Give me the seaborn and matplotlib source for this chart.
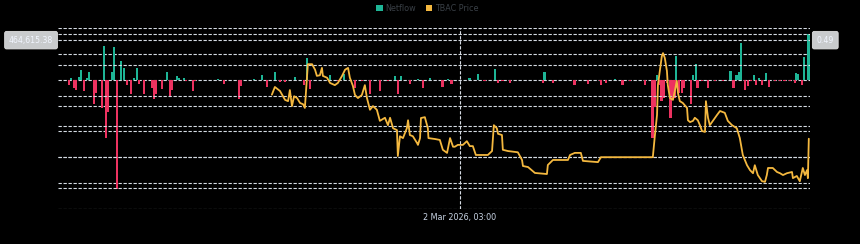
import matplotlib
matplotlib.use("Agg")
import matplotlib.pyplot as plt
import seaborn as sns
import pandas as pd
import numpy as np
from matplotlib.patches import Patch

# ---------------- data ----------------
bar_hours = [1.0, 3.7, 4.3, 5.3, 6.0, 7.0, 7.7, 8.7, 9.7, 10.3, 12.0, 12.7, 14.7, 15.3, 16.0, 16.7,
             18.0, 18.7, 19.7, 21.0, 22.0, 23.0, 24.3, 25.3, 26.3, 27.0, 28.7, 31.3, 32.0, 32.7,
             34.7, 36.3, 37.3, 38.0, 39.7, 40.3, 42.0, 42.7, 45.0, 45.7, 53.3, 55.3, 60.3, 61.0,
             65.3, 68.0, 69.7, 72.3, 74.0, 75.7, 79.0, 82.0, 83.0, 84.0, 90.7, 93.3, 95.3, 99.0,
             101.3, 104.0, 107.3, 110.0, 112.3, 113.3, 114.3, 117.3, 120.0, 121.7, 124.0, 128.0,
             128.3, 130.0, 131.3, 137.3, 140.0, 142.3, 145.7, 146.7, 148.3, 150.7, 161.7, 162.3,
             165.0, 172.3, 176.7, 180.7, 181.0, 182.7, 185.7, 188.3, 190.7, 195.7, 198.3, 199.0,
             199.7, 200.7, 201.3, 202.0, 203.0, 204.3, 205.0, 205.7, 206.0, 207.0, 208.0, 208.7,
             211.0, 211.7, 212.7, 213.3, 214.7, 216.7, 219.0, 221.7, 224.3, 225.3, 226.3, 227.0,
             227.7, 229.0, 230.0, 231.0, 232.0, 232.7, 233.7, 234.7, 236.0, 237.0, 239.0, 240.7,
             242.3, 244.0, 245.7, 246.0, 246.7, 248.0, 248.7, 250.3]
netflow = [-8e3, -62e3, 23e3, -101e3, -116e3, 27e3, 116e3, -131e3, 20e3, 93e3, -286e3, -151e3,
           -333e3, 391e3, -681e3, -371e3, 89e3, 379e3, -1270e3, 217e3, 131e3, -62e3, -170e3,
           20e3, 139e3, -46e3, -170e3, -101e3, -228e3, -170e3, -108e3, 93e3, -197e3, -116e3,
           39e3, 20e3, 15e3, -19e3, -131e3, -19e3, 12e3, -46e3, -228e3, -77e3, 10e3, 50e3,
           -85e3, 93e3, -31e3, -31e3, 27e3, -62e3, 255e3, -112e3, 50e3, -15e3, 62e3, -93e3,
           -15e3, -162e3, -131e3, -12e3, 39e3, -170e3, 39e3, -46e3, 12e3, -93e3, 15e3, -20e3,
           -85e3, 10e3, -54e3, 15e3, 62e3, -19e3, 120e3, -39e3, -15e3, -39e3, -39e3, 93e3,
           -39e3, -62e3, -46e3, -15e3, -62e3, -39e3, 10e3, -62e3, -15e3, -58e3, -673e3, -322e3,
           50e3, -58e3, -248e3, -209e3, -39e3, -441e3, -228e3, -209e3, 275e3, -151e3, -151e3,
           -93e3, -287e3, 50e3, 186e3, -101e3, -15e3, -93e3, -15e3, -15e3, 101e3, -101e3, 50e3,
           89e3, 421e3, -116e3, -77e3, -15e3, 50e3, -58e3, 20e3, -58e3, 77e3, -85e3, -20e3,
           -15e3, -20e3, -15e3, -39e3, 77e3, 62e3, -58e3, 263e3, 526e3]

price_hours = [71.3, 72.3, 74.0, 75.7, 76.7, 77.3, 78.0, 78.7, 79.7, 80.7, 81.7, 82.3, 83.0, 83.3,
               84.7, 85.7, 86.3, 87.3, 88.0, 88.3, 89.7, 90.7, 92.3, 93.3, 94.7, 95.7, 96.7, 97.3,
               98.3, 99.0, 100.0, 101.3, 102.3, 103.0, 104.0, 105.0, 106.3, 107.3, 109.0, 110.0,
               110.7, 111.7, 113.0, 113.3, 114.0, 115.0, 116.3, 116.7, 117.3, 118.3, 119.7, 120.0,
               120.7, 121.0, 122.3, 123.3, 123.5, 125.7, 127.3, 128.3, 129.7, 130.7, 131.7, 132.3,
               133.3, 135.0, 136.3, 137.3, 138.3, 139.3, 143.3, 144.7, 145.3, 146.3, 146.7, 148.0,
               148.3, 150.0, 153.3, 154.7, 155.0, 156.7, 159.0, 163.0, 163.3, 164.7, 165.0, 170.0,
               170.7, 172.3, 174.3, 175.0, 180.0, 181.0, 198.3, 199.0, 199.7, 200.0, 201.3, 201.7,
               202.3, 203.0, 203.3, 204.0, 205.0, 205.7, 206.3, 206.7, 207.3, 208.3, 209.7, 210.0,
               210.7, 211.7, 212.3, 213.3, 214.0, 214.7, 215.7, 216.0, 216.7, 217.3, 218.3, 219.7,
               220.7, 222.3, 223.3, 224.7, 226.3, 227.3, 228.3, 229.7, 230.7, 231.7, 232.3, 233.3,
               234.7, 235.7, 236.3, 236.7, 238.3, 239.7, 240.7, 241.7, 243.0, 244.7, 245.0, 246.3,
               247.3, 248.3, 249.0, 249.7, 250.0, 250.3]
price = [0.4015, 0.414, 0.4075, 0.393, 0.391, 0.409, 0.383, 0.399, 0.396, 0.388, 0.386, 0.380,
         0.429, 0.451, 0.451, 0.442, 0.432, 0.433, 0.445, 0.432, 0.429, 0.4205, 0.417, 0.4205,
         0.432, 0.442, 0.445, 0.429, 0.416, 0.401, 0.396, 0.401, 0.417, 0.396, 0.377, 0.383,
         0.377, 0.359, 0.364, 0.352, 0.364, 0.347, 0.344, 0.302, 0.334, 0.331, 0.347, 0.360,
         0.336, 0.334, 0.323, 0.320, 0.331, 0.3636, 0.365, 0.347, 0.331, 0.3295, 0.328, 0.312,
         0.307, 0.331, 0.317, 0.317, 0.320, 0.320, 0.326, 0.318, 0.318, 0.3036, 0.3036, 0.310,
         0.352, 0.347, 0.338, 0.336, 0.312, 0.310, 0.308, 0.2955, 0.2857, 0.284, 0.2744, 0.2727,
         0.2873, 0.294, 0.2955, 0.2955, 0.3036, 0.307, 0.307, 0.294, 0.292, 0.300, 0.300, 0.336,
         0.3685, 0.417, 0.464, 0.469, 0.461, 0.440, 0.417, 0.396, 0.393, 0.409, 0.424, 0.404,
         0.391, 0.388, 0.380, 0.360, 0.357, 0.359, 0.364, 0.360, 0.352, 0.3425, 0.341, 0.391,
         0.364, 0.352, 0.359, 0.3685, 0.375, 0.372, 0.359, 0.352, 0.347, 0.331, 0.3036, 0.287,
         0.279, 0.274, 0.287, 0.271, 0.261, 0.260, 0.271, 0.2825, 0.2825, 0.276, 0.274, 0.271,
         0.274, 0.276, 0.266, 0.2695, 0.261, 0.2825, 0.271, 0.279, 0.266, 0.330]

left_ticks = [-1.5e6, -1.2e6, -0.9e6, -0.6e6, -0.3e6, 0, 0.3e6, 0.6e6]
right_ticks = [0.25, 0.30, 0.35, 0.40, 0.45, 0.50]
cross_hour = 134
cross_price = 0.49
cross_flow_label = "464,615.38"
cross_price_label = "0.49"
cross_time_label = "2 Mar 2026, 03:00"
legend_labels = ["Netflow", "TBAC Price"]

# ---------------- style ----------------
sns.set_theme(style="dark")
plt.rcParams['font.family'] = ['DejaVu Sans']
BG = "#000000"
GRID = "#d5dbe3"
TEAL = "#1eb596"
RED = "#ec3260"
GOLD = "#f4b83f"

fig = plt.figure(figsize=(8.6, 2.44), dpi=100, facecolor=BG)
ax = fig.add_axes([58 / 860, 1 - 209 / 244, 752 / 860, 181 / 244])
ax.set_facecolor(BG)
ax2 = ax.twinx()

df_bar = pd.DataFrame({"hour": bar_hours, "netflow": netflow})
colors = [TEAL if v >= 0 else RED for v in df_bar["netflow"]]
ax.bar(df_bar["hour"], df_bar["netflow"], width=0.9, color=colors, linewidth=0, zorder=3)

df_price = pd.DataFrame({"hour": price_hours, "price": price})
sns.lineplot(data=df_price, x="hour", y="price", ax=ax2, color=GOLD, linewidth=1.3, zorder=4)

ax.set_xlim(0, 250.7)
ax.set_ylim(-1.5e6, 0.6e6)
ax2.set_ylim(0.25 - 21 / 616, 0.5 + 6 / 616)

dash = (0, (3, 1.5))
for t in left_ticks:
    ax.axhline(t, color=GRID, lw=0.8, ls=dash, zorder=1)
for t in right_ticks:
    ax2.axhline(t, color=GRID, lw=0.8, ls=dash, zorder=1)
# crosshair
ax2.axhline(cross_price, color=GRID, lw=0.8, ls=dash, zorder=5)
ax2.axvline(cross_hour, color=GRID, lw=0.8, ls=dash, zorder=5)

for a in (ax, ax2):
    a.set_xticks([])
    a.set_yticks([])
    a.set_xlabel("")
    a.set_ylabel("")
    a.grid(False)
    for s in a.spines.values():
        s.set_visible(False)

# crosshair labels
box = dict(boxstyle="round,pad=0.55,rounding_size=0.25", fc="#c9cbcd", ec="#e0e0e0", lw=0.6)
ax2.annotate(cross_flow_label, xy=(0, cross_price), xycoords=("axes fraction", "data"),
             xytext=(-19.4, 0), textcoords="offset points", ha="center", va="center",
             fontsize=5.6, color="#f2f6ff", bbox=box, annotation_clip=False)
ax2.annotate(cross_price_label, xy=(1, cross_price), xycoords=("axes fraction", "data"),
             xytext=(11, 0), textcoords="offset points", ha="center", va="center",
             fontsize=5.6, color="#f2f6ff", bbox=box, annotation_clip=False)
ax.annotate(cross_time_label, xy=(cross_hour, 0), xycoords=("data", "axes fraction"),
            xytext=(0, -6), textcoords="offset points", ha="center", va="center",
            fontsize=5.8, color="#c8d4e4", annotation_clip=False)

handles = [Patch(facecolor=TEAL, edgecolor="none"), Patch(facecolor=GOLD, edgecolor="none")]
leg = fig.legend(handles, legend_labels, loc="center", bbox_to_anchor=(0.497, 1 - 8.5 / 244),
                 ncol=2, frameon=False, fontsize=5.8, handlelength=0.8, handleheight=0.8,
                 handletextpad=0.35, columnspacing=1.2)
for t in leg.get_texts():
    t.set_color("#3a4047")

fig.savefig("out.png", dpi=100, facecolor=BG)
